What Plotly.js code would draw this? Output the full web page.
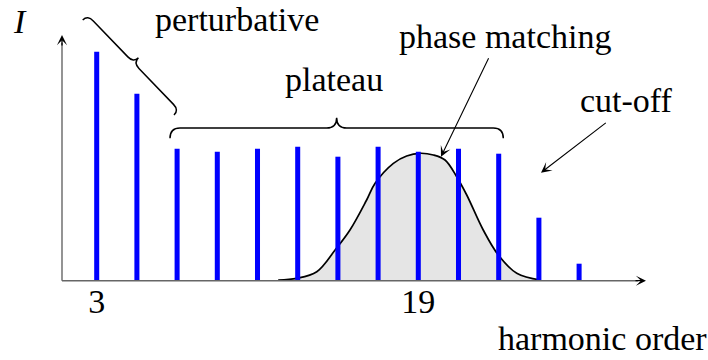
<!DOCTYPE html>
<html>
<head>
<meta charset="utf-8">
<script src="https://cdn.plot.ly/plotly-3.0.1.min.js"></script>
<style>
  html, body { margin: 0; padding: 0; background: #fff; }
  #chart { width: 708px; height: 360px; }
</style>
</head>
<body>
<div id="chart"></div>
<script>
// Odd harmonics of the driving field and their intensity (arb. units)
const harmonics = [3, 5, 7, 9, 11, 13, 15, 17, 19, 21, 23, 25, 27];
const intensity = [22.9, 18.7, 13.2, 12.9, 13.2, 13.4, 12.4, 13.4, 12.9, 13.2, 12.7, 6.3, 1.7];

// Phase-matching window, sampled along the harmonic order axis
const pmOrder = [12.03, 12.95, 13.95, 14.86, 15.6, 16.43, 16.85, 17.76, 18.42, 19.08,
                 19.75, 20.33, 20.91, 21.41, 22.23, 22.98, 23.9, 25.08];
const pmValue = [0.07, 0.24, 0.9, 3.07, 5.07, 8.07, 9.74, 11.74, 12.47, 12.74,
                 12.57, 12.07, 10.4, 8.57, 5.07, 2.57, 0.74, 0.07];

// Labelled harmonic orders on the x axis
const tickOrders = [3, 19];
const tickLabels = ['3', '19'];

// ---- canvas geometry ----
const W = 708, H = 360;
const PX_X3 = 96.7;        // canvas x of harmonic 3
const PX_PER_ORDER = 20.1; // canvas px per harmonic order
const PX_Y0 = 280.7;       // canvas y of zero intensity
const PX_PER_UNIT = 10;    // canvas px per intensity unit
const toX = px => 3 + (px - PX_X3) / PX_PER_ORDER;
const toY = py => (PX_Y0 - py) / PX_PER_UNIT;

const FONT = 'Liberation Serif';
const FS = 34;

// Curly brace between two canvas points; the tip bulges to the left of p0->p1
function bracePath(p0, p1, amp, r) {
  const dx = p1[0] - p0[0], dy = p1[1] - p0[1];
  const L = Math.hypot(dx, dy);
  const u = [dx / L, dy / L];
  const n = [u[1], -u[0]];
  const h = amp / 2;
  const m = [(p0[0] + p1[0]) / 2, (p0[1] + p1[1]) / 2];
  const pt = (b, su, sn) => [b[0] + u[0] * su + n[0] * sn, b[1] + u[1] * su + n[1] * sn];
  const f = p => toX(p[0]).toFixed(4) + ',' + toY(p[1]).toFixed(4);
  const pts = [
    ['M', [p0]],
    ['Q', [pt(p0, 0, h), pt(p0, r, h)]],
    ['L', [pt(m, -r, h)]],
    ['Q', [pt(m, 0, h), pt(m, 0, amp)]],
    ['Q', [pt(m, 0, h), pt(m, r, h)]],
    ['L', [pt(p1, -r, h)]],
    ['Q', [pt(p1, 0, h), p1]]
  ];
  return pts.map(([c, ps]) => c + ps.map(f).join(' ')).join(' ');
}

const pmTrace = {
  x: pmOrder, y: pmValue,
  type: 'scatter', mode: 'lines',
  line: { color: '#000', width: 1.7, shape: 'spline', smoothing: 1 },
  fill: 'tozeroy', fillcolor: '#e5e5e5',
  hoverinfo: 'skip', showlegend: false,
  xaxis: 'x', yaxis: 'y'
};

const barTrace = {
  x: harmonics, y: intensity,
  type: 'bar', width: 0.25,
  marker: { color: '#0000ff', line: { width: 0 } },
  hoverinfo: 'skip', showlegend: false,
  xaxis: 'x2', yaxis: 'y2'
};

const xr = [toX(0), toX(W)];
const yr = [toY(H), toY(0)];

const axisArrow = (tx, ty, ax, ay) => ({
  x: toX(tx), y: toY(ty), xref: 'x', yref: 'y',
  ax: ax, ay: ay, text: '', showarrow: true,
  arrowhead: 3, arrowsize: 1.3, arrowwidth: 1.3, arrowcolor: '#000', standoff: 0
});
const pointer = (tx, ty, ax, ay) => ({
  x: toX(tx), y: toY(ty), xref: 'x', yref: 'y',
  ax: ax, ay: ay, text: '', showarrow: true,
  arrowhead: 3, arrowsize: 1.6, arrowwidth: 1.1, arrowcolor: '#000', standoff: 0
});
const label = (text, cx, cy, style) => ({
  x: cx / W, y: 1 - cy / H, xref: 'paper', yref: 'paper',
  xanchor: 'center', yanchor: 'middle', showarrow: false,
  text: text,
  font: { family: FONT, size: FS, color: '#000', style: style || 'normal' }
});

const layout = {
  width: W, height: H,
  margin: { l: 0, r: 0, t: 0, b: 0, pad: 0 },
  paper_bgcolor: '#fff', plot_bgcolor: 'rgba(0,0,0,0)',
  font: { family: FONT, size: FS, color: '#000' },
  showlegend: false,
  xaxis: {
    range: xr, anchor: 'free', position: (H - PX_Y0 + 3) / H,
    tickvals: tickOrders, ticktext: tickLabels, ticks: '',
    tickfont: { family: FONT, size: FS, color: '#000' },
    ticklabelstandoff: 0,
    showline: false, showgrid: false, zeroline: false, fixedrange: true
  },
  yaxis: { range: yr, visible: false, fixedrange: true },
  xaxis2: { range: xr, overlaying: 'x', visible: false, fixedrange: true },
  yaxis2: { range: yr, overlaying: 'y', visible: false, fixedrange: true },
  shapes: [
    { type: 'line', xref: 'x', yref: 'y', x0: toX(62), y0: 0, x1: toX(638), y1: 0,
      line: { color: '#666', width: 1.4 } },
    { type: 'line', xref: 'x', yref: 'y', x0: toX(62), y0: 0, x1: toX(62), y1: toY(43),
      line: { color: '#666', width: 1.4 } },
    { type: 'path', xref: 'x', yref: 'y', path: bracePath([82.7, 20], [174, 115], 14, 8),
      line: { color: '#000', width: 1.5 } },
    { type: 'path', xref: 'x', yref: 'y', path: bracePath([170, 138.3], [503.3, 138.3], 20.6, 10),
      line: { color: '#000', width: 1.5 } }
  ],
  annotations: [
    axisArrow(646, PX_Y0, -12, 0),
    axisArrow(62, 35, 0, 12),
    pointer(441, 156.7, 48.3, -100),
    pointer(541, 172.7, 66.3, -51),
    label('I', 20, 21, 'italic'),
    label('perturbative', 237, 19),
    label('plateau', 334, 79),
    label('phase matching', 505, 37),
    label('cut-off', 626, 100),
    label('harmonic order', 602, 338)
  ]
};

Plotly.newPlot('chart', [pmTrace, barTrace], layout, { staticPlot: true, displayModeBar: false });
</script>
</body>
</html>
